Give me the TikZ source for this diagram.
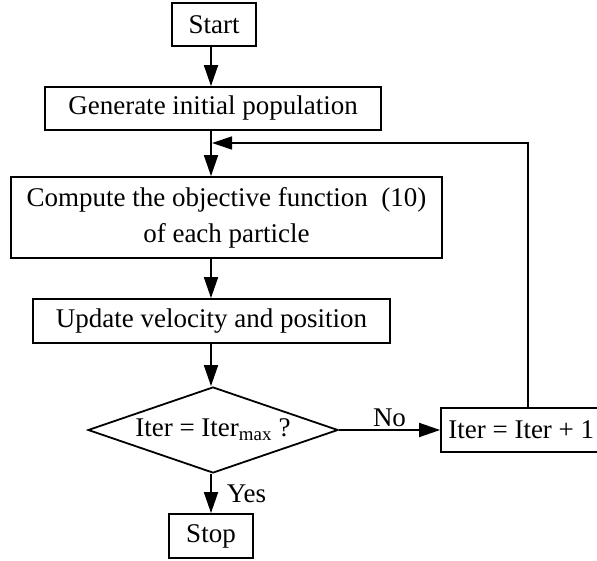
\documentclass[tikz,border=0pt]{standalone}
\usepackage{fontspec}
\setmainfont{Liberation Serif}
\usetikzlibrary{shapes.geometric,arrows.meta}
\begin{document}
\begin{tikzpicture}[x=1pt,y=-1pt,
  txt/.style={font=\fontsize{27}{36}\selectfont},
  box/.style={txt,draw,line width=1.8pt,rectangle,inner sep=0pt},
  dia/.style={txt,draw,line width=1.8pt,diamond,aspect=2.9,inner sep=0pt,minimum width=250pt,minimum height=86pt},
  arr/.style={line width=1.8pt,-{Triangle[length=21pt,width=14pt]}},
  fbarr/.style={line width=1.3pt,-{Triangle[length=20pt,width=13pt]}},
  lbl/.style={txt,inner sep=0pt}]
\useasboundingbox (0,0) rectangle (597,561);
\clip (0,0) rectangle (597,561);
\node[box,minimum width=84pt,minimum height=43pt] (start) at (214,24.5) {Start};
\node[box,minimum width=336pt,minimum height=43pt] (gen) at (213,108.5) {Generate initial population};
\node[box,minimum width=431pt,minimum height=81pt,align=center] (comp) at (226.5,217.5) {Compute the objective function~~(10)\\of each particle};
\node[box,minimum width=357pt,minimum height=44pt] (upd) at (211.5,321) {Update velocity and position};
\node[dia] (dec) at (213,430) {Iter = Iter\textsubscript{max} ?};
\node[box,minimum width=84pt,minimum height=44pt] (stop) at (211,536) {Stop};
\node[box,minimum width=174pt,minimum height=44pt] (iter) at (528,430) {};
\node[lbl,anchor=west] (itertext) at ([xshift=8pt]iter.west) {Iter = Iter + 1};
\coordinate (ax) at (211,0);
\coordinate (fb) at (212,143);
\draw[arr] (start.south -| ax) -- (gen.north -| ax);
\draw[arr] (gen.south -| ax) -- (comp.north -| ax);
\draw[fbarr] (iter.north) |- (fb);
\draw[arr] (comp.south -| ax) -- (upd.north -| ax);
\draw[arr] (upd.south -| ax) -- (dec.north -| ax);
\draw[arr] (dec.south -| ax) -- node[lbl,right=15pt]{Yes} (stop.north);
\draw[arr] (dec.east) -- node[lbl,above=2pt]{No} (iter.west);
\end{tikzpicture}
\end{document}
